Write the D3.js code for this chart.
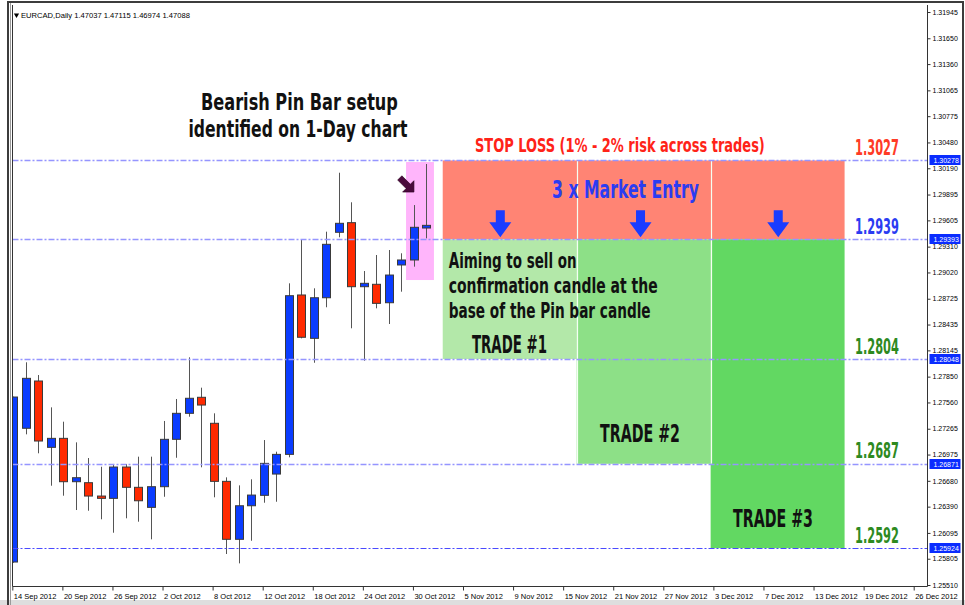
<!DOCTYPE html>
<meta charset="utf-8">
<html>
<script src="https://d3js.org/d3.v7.min.js"></script>
<style>
    body { margin: 0; background: #fff; }
    .note { font-family: "Liberation Sans Narrow", "DejaVu Sans Condensed", sans-serif; font-weight: bold; }
    .axis text { font-family: "Liberation Sans", Arial, sans-serif; font-size: 7px; fill: #000; }
</style>
<body>
<div id="chart"></div>
<script>

    // daily candles, one per trading day from 14 Sep 2012 (index 0) to 31 Oct 2012 (index 33)
    var opens = [1.25768, 1.27270, 1.27801, 1.27056, 1.27157, 1.26670, 1.26659, 1.26509, 1.26483, 1.26835,
        1.26607, 1.26382, 1.26614, 1.27146, 1.27438, 1.27618, 1.27326, 1.26674, 1.26023, 1.26400,
        1.26517, 1.26756, 1.26977, 1.28767, 1.28280, 1.28736, 1.29471, 1.29579, 1.28860, 1.28887,
        1.28680, 1.29104, 1.29160, 1.29519];
    var highs = [1.27625, 1.28011, 1.27868, 1.27505, 1.27344, 1.27112, 1.26936, 1.26838, 1.26869, 1.26869,
        1.26951, 1.26951, 1.27352, 1.27599, 1.28067, 1.27726, 1.27438, 1.26719, 1.26629, 1.26697,
        1.27138, 1.27007, 1.28898, 1.29392, 1.28842, 1.29478, 1.30140, 1.29808, 1.29036, 1.29216,
        1.29272, 1.29235, 1.29777, 1.30238];
    var lows = [1.25760, 1.27202, 1.26989, 1.26625, 1.26513, 1.26352, 1.26344, 1.26248, 1.26097, 1.26259,
        1.26221, 1.26023, 1.26501, 1.26939, 1.27400, 1.26832, 1.26495, 1.25858, 1.25753, 1.26007,
        1.26434, 1.26445, 1.26944, 1.28280, 1.28006, 1.28629, 1.29415, 1.28393, 1.28029, 1.28617,
        1.28441, 1.28804, 1.29085, 1.29403];
    var closes = [1.27621, 1.27831, 1.27127, 1.27157, 1.26670, 1.26715, 1.26509, 1.26483, 1.26835, 1.26607,
        1.26456, 1.26614, 1.27146, 1.27438, 1.27607, 1.27531, 1.26674, 1.26023, 1.26400, 1.26520,
        1.26876, 1.26977, 1.28759, 1.28292, 1.28736, 1.29336, 1.29572, 1.28860, 1.28898, 1.28673,
        1.28991, 1.29160, 1.29527, 1.29549];

    // x axis labels, one every 4 bars
    var dateLabels = ["14 Sep 2012", "20 Sep 2012", "26 Sep 2012", "2 Oct 2012", "8 Oct 2012", "12 Oct 2012",
        "18 Oct 2012", "24 Oct 2012", "30 Oct 2012", "5 Nov 2012", "9 Nov 2012", "15 Nov 2012",
        "21 Nov 2012", "27 Nov 2012", "3 Dec 2012", "7 Dec 2012", "13 Dec 2012", "19 Dec 2012", "26 Dec 2012"];
    var priceTicks = [1.31945, 1.31650, 1.31360, 1.31065, 1.30775, 1.30480, 1.30190, 1.29895, 1.29605,
        1.29310, 1.29020, 1.28725, 1.28435, 1.28145, 1.27850, 1.27560, 1.27265, 1.26975, 1.26680,
        1.26390, 1.26095, 1.25805, 1.25510];

    // horizontal levels: stop loss, entry, targets
    var levels = [1.30278, 1.29393, 1.28048, 1.26871, 1.25924];
    var levelText = ["1.3027", "1.2939", "1.2804", "1.2687", "1.2592"];
    var levelColors = ["#ff3b26", "#2b3cf2", "#2e8a1f", "#2e8a1f", "#2e8a1f"];

    // trade zones (bar index from/to, take profit price)
    var tradeNames = ["TRADE #1", "TRADE #2", "TRADE #3"];
    var tradeFrom = [34.3, 45.0, 55.7];
    var tradeTo = [45.0, 55.7, 66.4];
    var tradeTarget = [1.28048, 1.26871, 1.25924];
    var tradeColors = ["#b3e8a9", "#8de087", "#62d862"];
    var arrowBars = [38.9, 50.1, 61.1];

    // pin bar highlight
    var pinFrom = 31.37, pinTo = 33.6, pinTop = 1.30260, pinBottom = 1.28935;

    var width = 965, height = 605;
    var svg = d3.select("#chart").append("svg")
        .attr("width", width)
        .attr("height", height);

    var x = d3.scaleLinear().domain([0, 72]).range([13.3, 914.7]);
    var y = d3.scaleLinear().domain([1.25510, 1.31945]).range([585, 12]);
    var plotLeft = 12.5, plotRight = 927.5, plotTop = 5, plotBottom = 586.5;

    // window frame
    svg.append("rect").attr("x", 0).attr("y", 600).attr("width", width).attr("height", 5).attr("fill", "#dedede");
    svg.append("rect").attr("x", 8).attr("y", 2).attr("width", 955).attr("height", 610)
        .attr("fill", "none").attr("stroke", "#3c3c3c").attr("stroke-width", 2);
    svg.append("line").attr("x1", 10.5).attr("x2", 10.5).attr("y1", 3).attr("y2", 605).attr("stroke", "#9a9a9a");

    svg.append("clipPath").attr("id", "plotclip").append("rect")
        .attr("x", plotLeft).attr("y", plotTop)
        .attr("width", plotRight - plotLeft).attr("height", plotBottom - plotTop);
    var g = svg.append("g").attr("clip-path", "url(#plotclip)");

    // pin bar highlight
    g.append("rect")
        .attr("x", x(pinFrom)).attr("y", y(pinTop))
        .attr("width", x(pinTo) - x(pinFrom)).attr("height", y(pinBottom) - y(pinTop))
        .attr("fill", "#ffb5fb");

    // stop loss zone
    g.append("rect")
        .attr("x", x(tradeFrom[0])).attr("y", y(levels[0]))
        .attr("width", x(tradeTo[2]) - x(tradeFrom[0])).attr("height", y(levels[1]) - y(levels[0]))
        .attr("fill", "#ff8474");

    // trade zones
    g.selectAll(".trade").data(tradeNames).enter().append("rect")
        .attr("x", function (d, i) { return x(tradeFrom[i]); })
        .attr("y", y(levels[1]))
        .attr("width", function (d, i) { return x(tradeTo[i]) - x(tradeFrom[i]); })
        .attr("height", function (d, i) { return y(tradeTarget[i]) - y(levels[1]); })
        .attr("fill", function (d, i) { return tradeColors[i]; });

    // white dividers between zones
    g.selectAll(".divider").data([tradeTo[0], tradeTo[1]]).enter().append("line")
        .attr("x1", function (d) { return Math.round(x(d)) + 0.5; })
        .attr("x2", function (d) { return Math.round(x(d)) + 0.5; })
        .attr("y1", y(levels[0])).attr("y2", y(tradeTarget[1]))
        .attr("stroke", "#f4fff2").attr("stroke-width", 1.2);

    // candles
    var bars = d3.range(opens.length);
    g.selectAll(".wick").data(bars).enter().append("line")
        .attr("x1", function (i) { return Math.round(x(i)) + 0.5; })
        .attr("x2", function (i) { return Math.round(x(i)) + 0.5; })
        .attr("y1", function (i) { return y(highs[i]); })
        .attr("y2", function (i) { return y(lows[i]); })
        .attr("stroke", "#555");
    g.selectAll(".body").data(bars).enter().append("rect")
        .attr("x", function (i) { return Math.round(x(i)) - 3.5; })
        .attr("y", function (i) { return y(Math.max(opens[i], closes[i])); })
        .attr("width", 8)
        .attr("height", function (i) { return Math.max(2, y(Math.min(opens[i], closes[i])) - y(Math.max(opens[i], closes[i]))); })
        .attr("fill", function (i) { return closes[i] >= opens[i] ? "#0a3cff" : "#ff2a00"; })
        .attr("stroke", "#3a3a3a");

    // dash-dot level lines
    g.selectAll(".level").data(levels).enter().append("line")
        .attr("x1", plotLeft).attr("x2", plotRight)
        .attr("y1", function (d) { return Math.round(y(d)) + 0.5; })
        .attr("y2", function (d) { return Math.round(y(d)) + 0.5; })
        .attr("stroke", function (d, i) { return i < 4 ? "#9595ff" : "#4a4aff"; })
        .attr("stroke-width", function (d, i) { return i < 4 ? 1.5 : 1; })
        .attr("stroke-dasharray", "6,2,2,2");

    // plot borders
    svg.append("line").attr("x1", plotLeft).attr("x2", plotLeft).attr("y1", plotTop).attr("y2", plotBottom).attr("stroke", "#333");
    svg.append("line").attr("x1", plotRight).attr("x2", plotRight).attr("y1", plotTop).attr("y2", plotBottom).attr("stroke", "#333");
    svg.append("line").attr("x1", plotLeft).attr("x2", plotRight).attr("y1", plotBottom).attr("y2", plotBottom).attr("stroke", "#333");

    // price axis
    var yAxis = svg.append("g").attr("class", "axis")
        .attr("transform", "translate(" + plotRight + ",0)")
        .call(d3.axisRight(y).tickValues(priceTicks).tickSize(3).tickPadding(2).tickFormat(d3.format(".5f")));
    yAxis.select(".domain").remove();
    yAxis.selectAll("line").attr("stroke", "#333");

    // highlighted prices on the axis
    var tags = svg.selectAll(".tag").data(levels).enter().append("g")
        .attr("transform", function (d) { return "translate(" + (plotRight + 2) + "," + Math.round(y(d)) + ")"; });
    tags.append("rect").attr("x", 0).attr("y", -5).attr("width", 31).attr("height", 10).attr("fill", "#0a2cff");
    tags.append("text").attr("x", 4).attr("y", 3)
        .style("font-family", "Liberation Sans, Arial, sans-serif").style("font-size", "7px")
        .attr("fill", "#fff").text(function (d) { return d3.format(".5f")(d); });

    // date axis
    var xAxis = svg.append("g").attr("class", "axis")
        .attr("transform", "translate(-1," + plotBottom + ")")
        .call(d3.axisBottom(x).tickValues(d3.range(0, 73, 4)).tickSize(4).tickPadding(3)
            .tickFormat(function (d, i) { return dateLabels[i]; }));
    xAxis.select(".domain").remove();
    xAxis.selectAll("line").attr("stroke", "#333");
    xAxis.selectAll("text").attr("text-anchor", "start").attr("x", 1).style("font-size", "7.5px");

    // header
    svg.append("path").attr("d", d3.symbol().type(d3.symbolTriangle).size(12)())
        .attr("transform", "translate(16.5,15) rotate(180)").attr("fill", "#000");
    var header = svg.append("text")
        .style("font-family", "Liberation Sans, Arial, sans-serif").style("font-size", "7.5px")
        .text("EURCAD,Daily  1.47037 1.47115 1.46974 1.47088");
    header.attr("transform", "translate(21,17.5) scale(" + (169 / header.node().getComputedTextLength()) + ",1)");

    // pin bar pointer arrow
    var pointer = svg.append("g")
        .attr("transform", "translate(" + x(32.0) + "," + y(1.29923) + ") rotate(-45)");
    pointer.append("path").attr("d", "M0,0 L-8,-8 L-3,-8 L-3,-20 L3,-20 L3,-8 L8,-8 Z")
        .attr("fill", "#4a0a3c").attr("stroke", "#2a0020").attr("stroke-width", 0.6);

    // entry arrows
    svg.selectAll(".entry").data(arrowBars).enter().append("path")
        .attr("transform", function (d) { return "translate(" + x(d) + "," + (y(levels[1]) - 2) + ")"; })
        .attr("d", "M0,0 L-11,-15 L-4.5,-15 L-4.5,-27 L4.5,-27 L4.5,-15 L11,-15 Z")
        .attr("fill", "#1a3cff");

    // condensed annotation text: squeeze each line horizontally to the width it has in the screenshot
    function note(txt, px, py, size, len, color, anchor) {
        var t = svg.append("text").attr("class", "note")
            .style("font-size", size + "px")
            .attr("fill", color)
            .text(txt);
        var sx = len / t.node().getComputedTextLength();
        var x0 = anchor === "middle" ? px - len / 2 : px;
        t.attr("transform", "translate(" + x0 + "," + py + ") scale(" + sx + ",1)");
        return t;
    }

    // title
    note("Bearish Pin Bar setup", 299.5, 110, 22.5, 197, "#111", "middle");
    note("identified on 1-Day chart", 298, 137, 22.5, 219, "#111", "middle");

    note("STOP LOSS (1% - 2% risk across trades)", 475, y(levels[0]) - 8, 20, 290, "#ff2318");
    note("3 x Market Entry", 552, 198, 25, 147, "#2b3cf2");

    note("Aiming to sell on", x(tradeFrom[0]) + 6, 268, 20.5, 128, "#111");
    note("confirmation candle at the", x(tradeFrom[0]) + 6, 293, 20.5, 209, "#111");
    note("base of the Pin bar candle", x(tradeFrom[0]) + 6, 318, 20.5, 202, "#111");

    var tradeX = [472, 600, 733], tradeLen = [75, 80, 80];
    tradeNames.forEach(function (t, i) {
        note(t, tradeX[i], y(tradeTarget[i]) - 6.5 - (i === 0 ? 0 : 15), 25.5, tradeLen[i], "#111");
    });

    levels.forEach(function (v, i) {
        note(levelText[i], 855, y(v) - 5.5, 21, 44, levelColors[i]);
    });

</script>
</body>
</html>
